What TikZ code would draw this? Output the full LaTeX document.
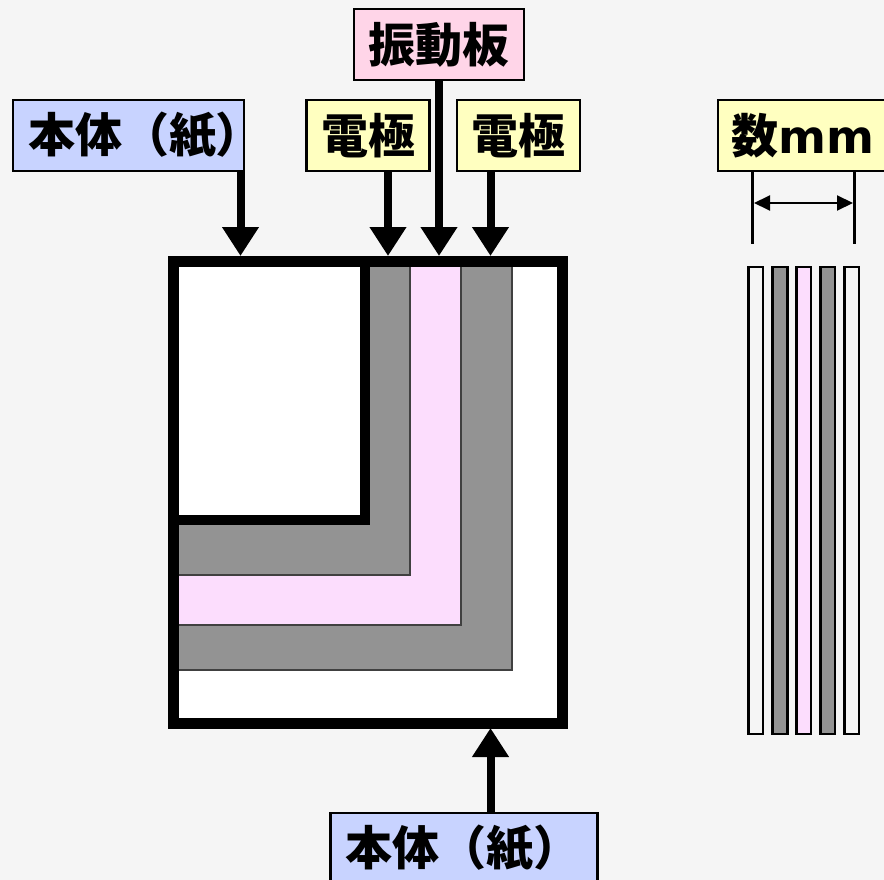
\documentclass[tikz,border=0pt]{standalone}
\usepackage{fontspec}
\setmainfont{Noto Sans CJK JP}
\newfontfamily\latinfont{DejaVu Sans}
\usetikzlibrary{arrows.meta}
\definecolor{bgcol}{HTML}{F5F5F5}
\definecolor{bluecol}{HTML}{C8D3FF}
\definecolor{yellowcol}{HTML}{FFFFC0}
\definecolor{pinkcol}{HTML}{FFD5E8}
\definecolor{platecol}{HTML}{FCDDFD}
\definecolor{graycol}{HTML}{939393}
\newcommand{\lab}[1]{\raisebox{-2pt}{#1}}
\tikzset{
  label/.style={draw=black,line width=2.5pt,inner sep=0pt,minimum height=71pt,font=\fontsize{47}{47}\selectfont\bfseries,text=black},
  layer/.style={draw=black!75,line width=2pt},
  lead/.style={line width=8pt,-{Triangle[width=35pt,length=29pt]}},
  strip/.style={draw=black,line width=2.75pt},
  dim/.style={line width=2pt}
}
\begin{document}
\begin{tikzpicture}[x=1pt,y=-1pt]
\useasboundingbox (0,0) rectangle (884,880);
\fill[bgcol] (0,0) rectangle (884,880);
\fill[white] (173,262) rectangle (563,723);
\draw[layer,fill=graycol] (173,262) rectangle (512,670);
\draw[layer,fill=platecol] (173,262) rectangle (461,625);
\draw[layer,fill=graycol] (173,262) rectangle (410,575);
\draw[line width=10pt,fill=white] (173,262) rectangle (365,519.5);
\draw[line width=11pt] (173.5,261.5) rectangle (562.5,723.5);
\coordinate (T1) at (240.5,256);
\coordinate (T2) at (388,256);
\coordinate (T3) at (439,256);
\coordinate (T4) at (490.5,256);
\coordinate (B1) at (490.5,728);
\node[label,fill=bluecol,minimum width=231pt] (H1) at (128.5,135.5) {\makebox[201pt][l]{\lab{本体（紙）}}};
\node[label,fill=yellowcol,minimum width=123pt] (E1) at (368,135.5) {\lab{電極}};
\node[label,fill=yellowcol,minimum width=123pt] (E2) at (518.5,135.5) {\lab{電極}};
\node[label,fill=pinkcol,minimum width=170pt] (P) at (439,44.5) {\lab{振動板}};
\node[label,fill=bluecol,minimum width=267pt,anchor=north west] (H2) at (329,811.5) {\makebox[237pt][l]{\lab{本体（紙）}}};
\node[label,fill=yellowcol,minimum width=170pt,anchor=west] (S) at (716.5,135.5) {\makebox[170pt][l]{\hspace{14pt}\lab{数{\latinfont\fontsize{46}{46}\selectfont mm}}}};
\draw[lead] (H1.south -| T1) -- (T1);
\draw[lead] (E1.south -| T2) -- (T2);
\draw[lead] (P.south -| T3) -- (T3);
\draw[lead] (E2.south -| T4) -- (T4);
\draw[lead] (H2.north -| B1) -- (B1);
\coordinate (L) at (752.5,244);
\coordinate (R) at (854.5,244);
\draw[line width=2.5pt] (S.south -| L) -- (L);
\draw[line width=2.5pt] (S.south -| R) -- (R);
\draw[dim,{Triangle[width=15pt,length=16pt]}-{Triangle[width=15pt,length=16pt]}] (754,203) -- (853,203);
\draw[strip] (748.5,267) rectangle (763,734);
\draw[strip,fill=graycol] (772.5,267) rectangle (787.5,734);
\draw[strip,fill=platecol] (796.5,267) rectangle (811,734);
\draw[strip,fill=graycol] (820.5,267) rectangle (835,734);
\draw[strip] (844.5,267) rectangle (859,734);
\end{tikzpicture}
\end{document}
